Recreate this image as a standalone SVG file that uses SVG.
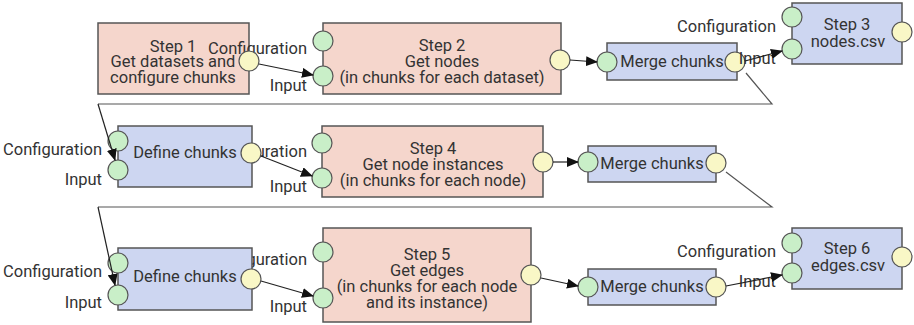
<svg xmlns="http://www.w3.org/2000/svg" width="914" height="325" viewBox="0 0 914 325">
  <style>
    .task { fill: #f5d6cc; stroke: #555; stroke-width: 1.5; }
    .tool { fill: #cdd6f1; stroke: #555; stroke-width: 1.5; }
    .in { fill: #c9efc8; stroke: #555; stroke-width: 1.2; }
    .out { fill: #f9f7c6; stroke: #555; stroke-width: 1.2; }
    text { font-family: Roboto, "Liberation Sans", sans-serif; font-size: 16.5px; fill: #333; }
    .c { text-anchor: middle; }
    .r { text-anchor: end; }
    .wire { fill: none; stroke: #222; stroke-width: 1.2; }
    .wire.arrow { marker-end: url(#head); }
    .loop { fill: none; stroke: #555; stroke-width: 1.2; }
  </style>
  <defs>
    <marker id="head" viewBox="0 0 12 10" refX="11" refY="5" markerWidth="12" markerHeight="10" markerUnits="userSpaceOnUse" orient="auto">
      <path d="M0,0 L12,5 L0,10 z" fill="#111"/>
    </marker>
  </defs>

  <rect width="914" height="325" fill="#fff"/>

  <!-- row 1 -->
  <g id="step1">
    <rect class="task" x="98" y="23" width="151" height="71"/>
    <text class="c" x="173" y="52">Step 1</text>
    <text class="c" x="173" y="67">Get datasets and</text>
    <text class="c" x="173" y="83">configure chunks</text>
  </g>
  <g id="step2">
    <text class="r" x="307" y="54">Configuration</text>
    <text class="r" x="307" y="91">Input</text>
    <rect class="task" x="323" y="23" width="238" height="71"/>
    <text class="c" x="442" y="51">Step 2</text>
    <text class="c" x="442" y="67">Get nodes</text>
    <text class="c" x="442" y="83">(in chunks for each dataset)</text>
    <circle class="in" cx="323" cy="41" r="10"/>
    <circle class="in" cx="323" cy="76" r="10"/>
    <circle class="out" cx="560" cy="60" r="10"/>
  </g>
  <g id="step1-out">
    <circle class="out" cx="249" cy="61" r="10"/>
  </g>
  <g id="merge1">
    <rect class="tool" x="607" y="43" width="130" height="37"/>
    <text class="c" x="672" y="67">Merge chunks</text>
    <circle class="in" cx="607" cy="62" r="10"/>
    <circle class="out" cx="735" cy="62" r="10"/>
  </g>
  <g id="step3">
    <text class="r" x="776" y="32">Configuration</text>
    <text class="r" x="776" y="64">Input</text>
    <rect class="tool" x="792" y="3" width="110" height="61"/>
    <text class="c" x="847" y="30">Step 3</text>
    <text class="c" x="848" y="47">nodes.csv</text>
    <circle class="in" cx="792" cy="17" r="10"/>
    <circle class="in" cx="792" cy="49" r="10"/>
    <circle class="out" cx="902" cy="32" r="10"/>
  </g>

  <!-- row 2 -->
  <g id="step4">
    <text class="r" x="307" y="157">Configuration</text>
    <text class="r" x="307" y="192">Input</text>
    <rect class="task" x="322" y="126" width="221" height="71"/>
    <text class="c" x="433" y="154">Step 4</text>
    <text class="c" x="433" y="170">Get node instances</text>
    <text class="c" x="433" y="186">(in chunks for each node)</text>
    <circle class="in" cx="322" cy="143" r="10"/>
    <circle class="in" cx="322" cy="178" r="10"/>
    <circle class="out" cx="543" cy="162" r="10"/>
  </g>
  <g id="define1">
    <text class="r" x="102" y="155">Configuration</text>
    <text class="r" x="102" y="185">Input</text>
    <rect class="tool" x="118" y="126" width="134" height="61"/>
    <text class="c" x="185" y="158">Define chunks</text>
    <circle class="in" cx="118" cy="141" r="10"/>
    <circle class="in" cx="118" cy="170" r="10"/>
    <circle class="out" cx="251" cy="153" r="10"/>
  </g>
  <g id="merge2">
    <rect class="tool" x="588" y="146" width="128" height="36"/>
    <text class="c" x="652" y="169">Merge chunks</text>
    <circle class="in" cx="588" cy="162" r="10"/>
    <circle class="out" cx="716" cy="163" r="10"/>
  </g>

  <!-- row 3 -->
  <g id="step5">
    <text class="r" x="307" y="265">Configuration</text>
    <text class="r" x="307" y="312">Input</text>
    <rect class="task" x="323" y="228" width="208" height="94"/>
    <text class="c" x="427" y="260">Step 5</text>
    <text class="c" x="427" y="276">Get edges</text>
    <text class="c" x="427" y="292">(in chunks for each node</text>
    <text class="c" x="427" y="308">and its instance)</text>
    <circle class="in" cx="323" cy="252" r="10"/>
    <circle class="in" cx="323" cy="298" r="10"/>
    <circle class="out" cx="531" cy="275" r="10"/>
  </g>
  <g id="define2">
    <text class="r" x="102" y="277">Configuration</text>
    <text class="r" x="102" y="308">Input</text>
    <rect class="tool" x="118" y="248" width="134" height="62"/>
    <text class="c" x="185" y="282">Define chunks</text>
    <circle class="in" cx="118" cy="263" r="10"/>
    <circle class="in" cx="118" cy="295" r="10"/>
    <circle class="out" cx="251" cy="279" r="10"/>
  </g>
  <g id="merge3">
    <rect class="tool" x="588" y="269" width="128" height="36"/>
    <text class="c" x="652" y="292">Merge chunks</text>
    <circle class="in" cx="588" cy="287" r="10"/>
    <circle class="out" cx="716" cy="287" r="10"/>
  </g>
  <g id="step6">
    <text class="r" x="776" y="257">Configuration</text>
    <text class="r" x="776" y="287">Input</text>
    <rect class="tool" x="792" y="228" width="110" height="61"/>
    <text class="c" x="847" y="254">Step 6</text>
    <text class="c" x="848" y="271">edges.csv</text>
    <circle class="in" cx="792" cy="243" r="10"/>
    <circle class="in" cx="792" cy="273" r="10"/>
    <circle class="out" cx="902" cy="257" r="10"/>
  </g>

  <g id="connectors">
    <path class="wire arrow" d="M259,64 L313,75"/>
    <path class="wire arrow" d="M570,60 L597,62"/>
    <path class="wire arrow" d="M745,61 L782,51"/>
    <path class="loop" d="M746,73 L772,104 L98,104"/>
    <path class="wire arrow" d="M98,104 L115,160"/>

    <path class="wire arrow" d="M261,156 L312,176"/>
    <path class="wire arrow" d="M553,162 L578,162"/>
    <path class="loop" d="M726,172 L772,207 L98,207"/>
    <path class="wire arrow" d="M98,207 L115,285"/>

    <path class="wire arrow" d="M261,281 L313,296"/>
    <path class="wire arrow" d="M541,278 L578,286"/>
    <path class="wire arrow" d="M726,286 L782,275"/>
  </g>
</svg>
